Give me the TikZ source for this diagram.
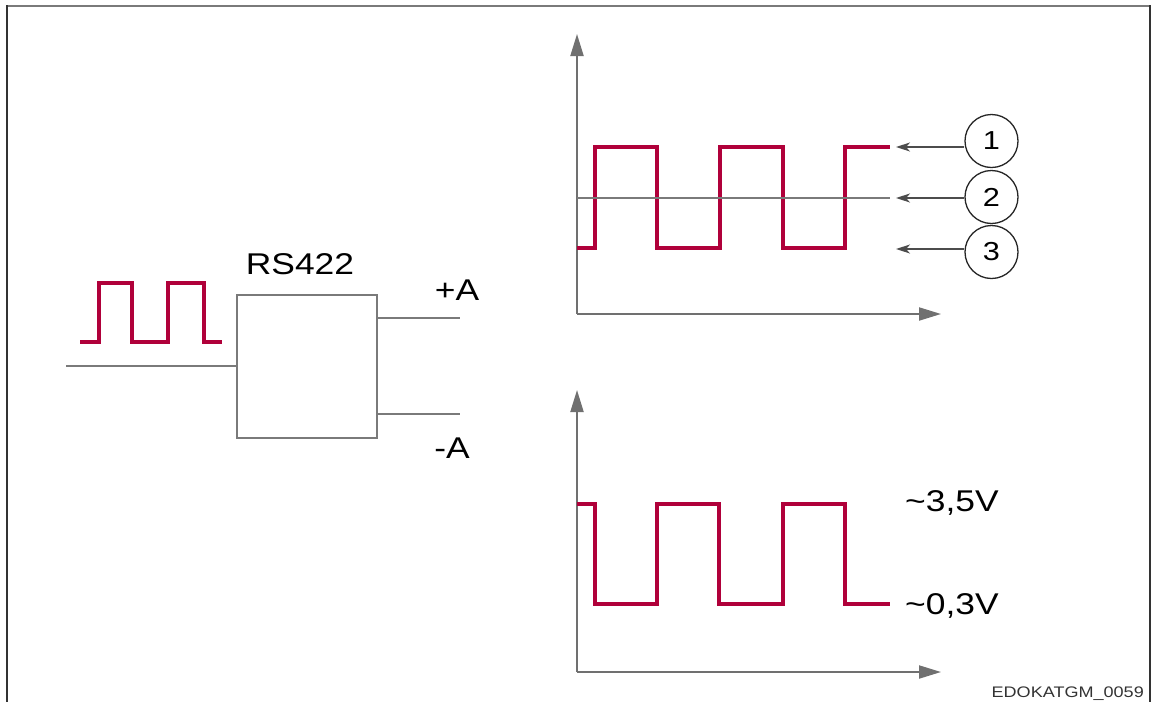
\documentclass[tikz,border=0pt]{standalone}
\usepackage{fontspec}
\setmainfont{Liberation Sans}[FakeStretch=1.18]
\usetikzlibrary{arrows.meta}
\definecolor{sigred}{HTML}{B0003A}
\definecolor{lgrey}{HTML}{7A7A7A}
\definecolor{agrey}{HTML}{707070}
\tikzset{
  sig/.style={draw=sigred, line width=4pt, line join=miter},
  wire/.style={draw=lgrey, line width=2pt},
  axis/.style={draw=agrey, line width=2pt, -{Triangle[length=22pt,width=13pt]}},
  callout/.style={draw=black!70, line width=1.5pt, -{Stealth[length=14pt,width=9pt,inset=4pt]}},
  numcirc/.style={circle, draw=black!85, line width=1.3pt, minimum size=53pt, inner sep=0pt, font=\fontsize{26}{30}\selectfont},
  lbl/.style={inner sep=0pt, font=\fontsize{30}{36}\selectfont},
  blk/.style={draw=lgrey, line width=2pt, minimum width=140pt, minimum height=143pt, inner sep=0pt}
}
\begin{document}
\begin{tikzpicture}[x=1pt,y=-1pt]
\useasboundingbox (0,0) rectangle (1155,702);
% frame
\draw[lgrey, line width=2pt] (7,6) -- (1150,6);
\draw[black!80, line width=2.2pt] (7,5) -- (7,702);
\draw[black!80, line width=2.2pt] (1150,5) -- (1150,702);

% left block
\node[blk] (box) at (307,366.5) {};
\node[lbl] (rs) at (300,264) {RS422};
\coordinate (in) at (66,366);
\draw[wire] (in) -- (box.west |- in);
\coordinate (pa) at (460,318);
\coordinate (ma) at (460,414);
\draw[wire] (box.east |- pa) -- (pa);
\draw[wire] (box.east |- ma) -- (ma);
\node[lbl] (plusA) at (457,290) {+A};
\node[lbl] (minusA) at (452,448) {-A};
\draw[sig] (80,342) -- (98.5,342) -- (98.5,283) -- (132,283) -- (132,342) -- (167.5,342) -- (167.5,283) -- (204,283) -- (204,342) -- (222,342);

% top graph
\coordinate (o1) at (577,314);
\draw[axis] (o1) -- (577,34);
\draw[axis] (o1) -- (941,314);
\draw[sig] (577,247.5) -- (594.5,247.5) -- (594.5,147) -- (657,147) -- (657,247.5) -- (719.5,247.5) -- (719.5,147) -- (782.5,147) -- (782.5,247.5) -- (845,247.5) -- (845,147) -- (890,147);
\draw[wire] (577,197.5) -- (890,197.5);
\node[numcirc] (c1) at (991.5,141) {1};
\node[numcirc] (c2) at (991.5,197) {2};
\node[numcirc] (c3) at (991.5,252) {3};
\coordinate (t1) at (896,147);
\coordinate (t2) at (896,198);
\coordinate (t3) at (896,249);
\draw[callout] (c1.west |- t1) -- (t1);
\draw[callout] (c2.west |- t2) -- (t2);
\draw[callout] (c3.west |- t3) -- (t3);

% bottom graph
\coordinate (o2) at (577,672);
\draw[axis] (o2) -- (577,390);
\draw[axis] (o2) -- (941,672);
\draw[sig] (577,504) -- (595,504) -- (595,603.5) -- (657,603.5) -- (657,504) -- (719,504) -- (719,603.5) -- (782.5,603.5) -- (782.5,504) -- (845,504) -- (845,603.5) -- (890,603.5);
\node[lbl, anchor=west] (v35) at (905,503) {\textasciitilde 3,5V};
\node[lbl, anchor=west] (v03) at (905,606) {\textasciitilde 0,3V};

\node[inner sep=0pt, anchor=east, font=\fontsize{15.3}{18}\selectfont, text=black!80] (code) at (1144,694) {EDOKATGM\_0059};
\end{tikzpicture}
\end{document}
